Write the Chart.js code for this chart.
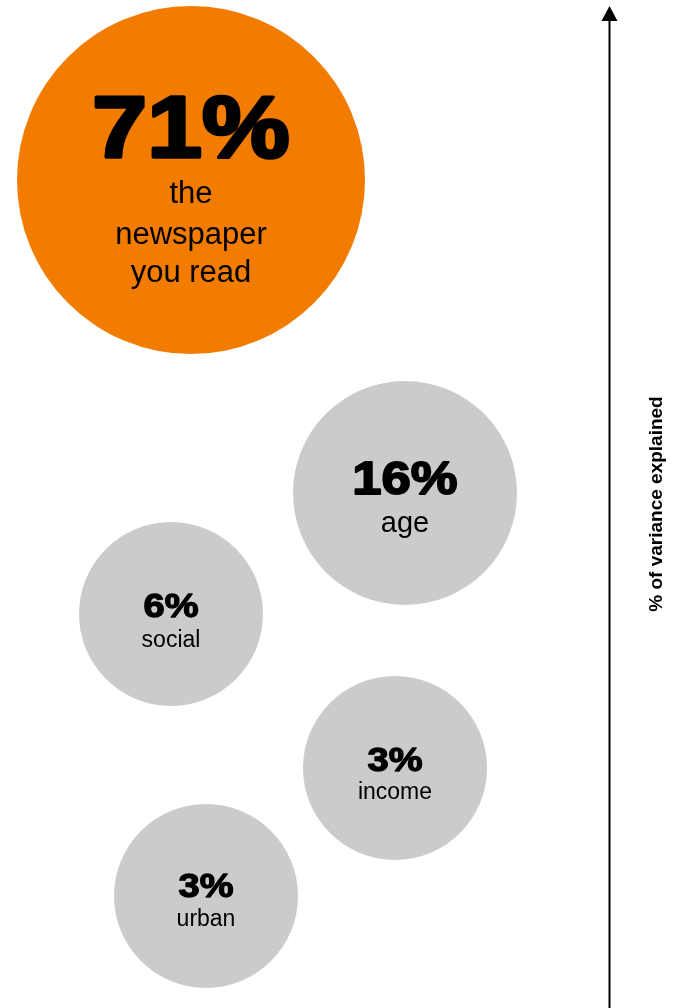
<!DOCTYPE html>
<html>
<head>
<meta charset="utf-8">
<script src="https://cdn.jsdelivr.net/npm/chart.js@4"></script>
<style>
  html, body { margin: 0; padding: 0; background: #fff; }
  #wrap { width: 673px; height: 1008px; position: relative; }
</style>
</head>
<body>
<div id="wrap"><canvas id="bubbles"></canvas></div>
<script>
// data
const factors = ["the\nnewspaper\nyou read", "age", "social", "income", "urban"];
const shares = [71, 16, 6, 3, 3];            // % of variance explained
const posX = [191, 405, 171, 395, 206];      // horizontal spot (chart units)
const posY = [828, 515, 394, 240, 112];      // vertical spot (chart units, up = more)
const bubbleR = [174, 112, 92, 92, 92];      // bubble radius
const axisTitle = "% of variance explained";

// look of each bubble
const fills = ["#f27c00", "#cbcbcb", "#cbcbcb", "#cbcbcb", "#cbcbcb"];
const bigFont = [88, 47, 34, 34, 34];
const smallFont = [31, 29, 23, 23, 23];
const bigBase = [-23, 1, 3, 3, 1];
const smallBase = [[23, 64, 102], [39], [33], [31], [30]];

const labelPlugin = {
    id: "bubbleLabels",
    afterDatasetsDraw(chart) {
        const ctx = chart.ctx;
        const meta = chart.getDatasetMeta(0);
        ctx.save();
        ctx.textAlign = "center";
        ctx.textBaseline = "alphabetic";
        ctx.fillStyle = "#000";
        ctx.strokeStyle = "#000";
        ctx.lineJoin = "round";
        meta.data.forEach((pt, i) => {
            // big percentage, widened and thickened to look like a black face
            ctx.save();
            ctx.translate(pt.x, pt.y + bigBase[i]);
            ctx.scale(1.12, 1);
            ctx.font = "bold " + bigFont[i] + "px 'Liberation Sans', Arial, sans-serif";
            ctx.lineWidth = bigFont[i] / 26;
            let txt = shares[i] + "%";
            ctx.strokeText(txt, 0, 0);
            ctx.fillText(txt, 0, 0);
            ctx.restore();

            ctx.font = smallFont[i] + "px 'Liberation Sans', Arial, sans-serif";
            factors[i].split("\n").forEach((line, k) => {
                ctx.fillText(line, pt.x, pt.y + smallBase[i][k]);
            });
        });
        ctx.restore();
    },
    afterDraw(chart) {
        // the arrow standing for the axis
        const ctx = chart.ctx;
        const xs = chart.scales.x;
        const ys = chart.scales.y;
        const ax = Math.round(xs.getPixelForValue(609)) + 0.5;
        const top = ys.getPixelForValue(1002);
        ctx.save();
        ctx.strokeStyle = "#000";
        ctx.fillStyle = "#000";
        ctx.lineWidth = 2;
        ctx.beginPath();
        ctx.moveTo(ax, ys.getPixelForValue(0));
        ctx.lineTo(ax, top + 12);
        ctx.stroke();
        ctx.beginPath();
        ctx.moveTo(ax, top);
        ctx.lineTo(ax - 8, top + 15);
        ctx.lineTo(ax + 8, top + 15);
        ctx.closePath();
        ctx.fill();

        ctx.translate(xs.getPixelForValue(657), ys.getPixelForValue(504));
        ctx.rotate(-Math.PI / 2);
        ctx.textAlign = "center";
        ctx.textBaseline = "middle";
        ctx.font = "bold 19px 'Liberation Sans', Arial, sans-serif";
        ctx.fillText(axisTitle, 0, 0);
        ctx.restore();
    }
};

new Chart(document.getElementById("bubbles"), {
    type: "bubble",
    data: {
        datasets: [{
            data: shares.map((s, i) => ({ x: posX[i], y: posY[i], r: bubbleR[i] })),
            backgroundColor: fills,
            borderWidth: 0,
            hoverRadius: 0,
            hoverBorderWidth: 0,
            clip: false
        }]
    },
    options: {
        responsive: true,
        maintainAspectRatio: false,
        animation: false,
        events: [],
        layout: { padding: 0, autoPadding: false },
        plugins: {
            legend: { display: false },
            tooltip: { enabled: false }
        },
        scales: {
            x: { type: "linear", min: 0, max: 673, display: false },
            y: { type: "linear", min: 0, max: 1008, display: false }
        }
    },
    plugins: [labelPlugin]
});
</script>
</body>
</html>
